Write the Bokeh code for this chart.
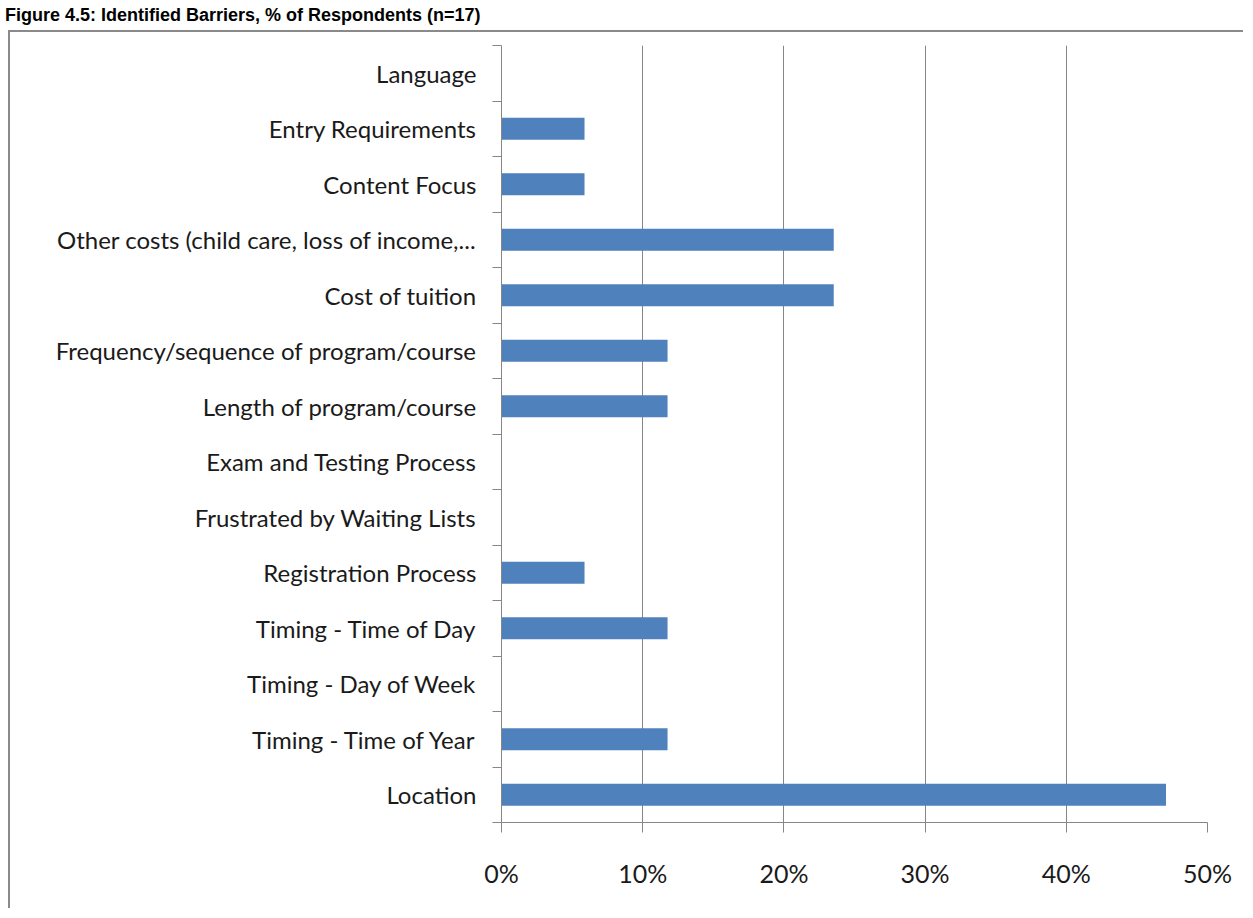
from bokeh.plotting import figure
from bokeh.models import Range1d, FixedTicker, NumeralTickFormatter, Div
from bokeh.layouts import column
from bokeh.embed import file_html
from bokeh.resources import INLINE

# ---- data (top to bottom as shown) ----
categories = [
    "Language",
    "Entry Requirements",
    "Content Focus",
    "Other costs (child care, loss of income,...",
    "Cost of tuition",
    "Frequency/sequence of program/course",
    "Length of program/course",
    "Exam and Testing Process",
    "Frustrated by Waiting Lists",
    "Registration Process",
    "Timing - Time of Day",
    "Timing - Day of Week",
    "Timing - Time of Year",
    "Location",
]
values = [0.0, 0.0588, 0.0588, 0.2353, 0.2353, 0.1176, 0.1176,
          0.0, 0.0, 0.0588, 0.1176, 0.0, 0.1176, 0.4706]
x_ticks = [0.0, 0.1, 0.2, 0.3, 0.4, 0.5]
title_text = "Figure 4.5: Identified Barriers, % of Respondents (n=17)"

n = len(categories)
ypos = [n - 1 - i + 0.5 for i in range(n)]
boundaries = [float(i) for i in range(n + 1)]

FONT = "Lato"
GRAY = "#868686"

W, H = 1235, 878
p = figure(width=W, height=H, output_backend="svg", toolbar_location=None,
           x_range=Range1d(0, 0.5), y_range=Range1d(0, n),
           min_border_left=491, min_border_right=38,
           min_border_top=13, min_border_bottom=88)
p.outline_line_color = None
p.background_fill_color = "white"
p.border_fill_color = "white"

p.hbar(y=ypos, right=values, left=0, height=0.4,
       fill_color="#4F81BD", line_color=None)

# x axis
xa = p.xaxis[0]
xa.ticker = FixedTicker(ticks=x_ticks)
xa.formatter = NumeralTickFormatter(format="0%")
xa.axis_line_color = GRAY
xa.axis_line_width = 1
xa.major_tick_line_color = GRAY
xa.major_tick_out = 10
xa.major_tick_in = 0
xa.minor_tick_line_color = None
xa.major_label_text_font = FONT
xa.major_label_text_font_size = "25px"
xa.major_label_text_color = "#1a1a1a"
xa.major_label_standoff = 25

# y axis: labels at category centres, tick marks at boundaries
ya = p.yaxis[0]
ya.ticker = FixedTicker(ticks=ypos, minor_ticks=boundaries)
ya.major_label_overrides = {y: c for y, c in zip(ypos, categories)}
ya.axis_line_color = GRAY
ya.major_tick_line_color = None
ya.major_tick_out = 0
ya.major_tick_in = 0
ya.minor_tick_line_color = GRAY
ya.minor_tick_out = 9
ya.minor_tick_in = 0
ya.major_label_text_font = FONT
ya.major_label_text_font_size = "24px"
ya.major_label_text_color = "#1a1a1a"
ya.major_label_standoff = 16

p.xgrid[0].ticker = FixedTicker(ticks=x_ticks)
p.xgrid[0].grid_line_color = GRAY
p.xgrid[0].grid_line_width = 1
p.ygrid[0].grid_line_color = None

p.styles = {"border-top": "2px solid #8a8a8a", "border-left": "2px solid #8a8a8a",
            "margin-left": "8px"}

title = Div(
    text=('<div style="font-family:\'Liberation Sans\', Arial, sans-serif; '
          'font-weight:bold; font-size:18px; color:#000; white-space:nowrap; '
          'line-height:20px;">' + title_text + '</div>'),
    width=W, height=20)

layout = column(title, p, spacing=0)

open("out.html", "w").write(file_html(layout, INLINE))
